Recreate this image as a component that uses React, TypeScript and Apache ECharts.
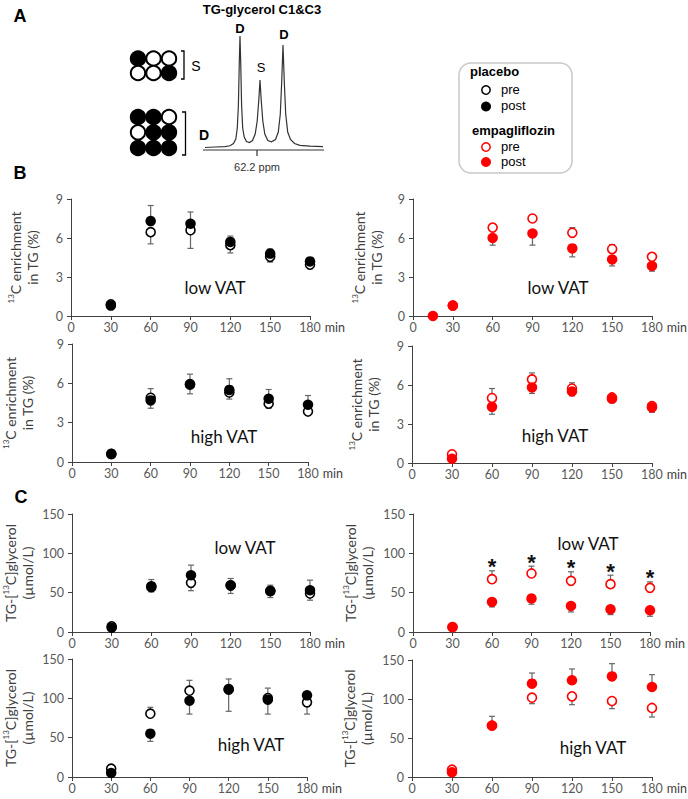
import React, { useEffect, useRef } from 'react';
import * as echarts from 'echarts';

// ---------- data ----------
const times = [30, 60, 90, 120, 150, 180];
const timesEmpLowB = [15, 30, 60, 90, 120, 150, 180];

// Panel B: 13C enrichment in TG (%)
const bPlaLowPre = [0.9, 6.45, 6.6, 5.45, 4.55, 3.95];
const bPlaLowPreErr = [0, -0.9, -1.4, -0.6, -0.4, -0.3];
const bPlaLowPost = [0.8, 7.3, 7.1, 5.7, 4.8, 4.2];
const bPlaLowPostErr = [0, 1.2, 0.9, 0.45, 0.35, 0.15];

const bEmpLowPre = [null, 0.8, 6.8, 7.5, 6.4, 5.15, 4.55];
const bEmpLowPreErr = [0, 0, 0.1, 0.1, 0.4, 0.35, 0.25];
const bEmpLowPost = [0, 0.8, 6.0, 6.35, 5.2, 4.35, 3.85];
const bEmpLowPostErr = [0, 0, -0.55, -0.9, -0.65, -0.5, -0.4];

const bPlaHighPre = [0.6, 4.9, 5.95, 5.3, 4.45, 3.85];
const bPlaHighPreErr = [0, 0.7, -0.75, -0.5, -0.35, -0.3];
const bPlaHighPost = [0.62, 4.7, 5.9, 5.5, 4.83, 4.37];
const bPlaHighPostErr = [0, -0.6, 0.8, 0.85, 0.7, 0.7];

const bEmpHighPre = [0.67, 5.0, 6.43, 5.73, 5.04, 4.37];
const bEmpHighPreErr = [0, 0.73, 0.5, 0.44, 0.3, 0.25];
const bEmpHighPost = [0.33, 4.32, 5.81, 5.5, 4.94, 4.27];
const bEmpHighPostErr = [0, -0.57, -0.46, -0.33, -0.31, -0.37];

// Panel C: TG-[13C]glycerol (µmol/L)
const cPlaLowPre = [7.2, 57, 62.5, 59, 52, 48.9];
const cPlaLowPreErr = [0, -6, -10, -10, -8.2, -8.5];
const cPlaLowPost = [5.5, 58.2, 72.2, 59.5, 52.3, 53.1];
const cPlaLowPostErr = [0, 8.5, 12.8, 8.5, 7.2, 12.8];

const cEmpLowPre = [6, 67.1, 74.4, 65, 60.8, 56.1];
const cEmpLowPreErr = [0, 10.7, 9.3, 11.5, 11.4, 7.6];
const cEmpLowPost = [6.4, 38.2, 42.5, 33.1, 28.9, 27.6];
const cEmpLowPostErr = [0, -6.3, -7.2, -7.6, -6.8, -7.6];
const cEmpLowSignificant = [false, true, true, true, true, true];

const cPlaHighPre = [10.6, 80.5, 109.7, 111, 100.4, 94.9];
const cPlaHighPreErr = [0, 8.1, 13.2, -27.5, 12.6, -14.9];
const cPlaHighPost = [5.1, 55.1, 97, 111.8, 98.3, 103.8];
const cPlaHighPostErr = [0, -9.8, -17, 12.8, -18.3, 0];

const cEmpHighPre = [9.4, 66, 101.7, 103.4, 97.4, 88.5];
const cEmpHighPreErr = [0, 0, -7.7, -10.7, -9.8, -11.6];
const cEmpHighPost = [6, 65.8, 119.7, 124, 129, 115.4];
const cEmpHighPostErr = [0, 12, 13.6, 14.5, 16.3, 15.8];

const legendLabels = ['placebo', 'pre', 'post', 'empagliflozin', 'pre', 'post'];

// ---------- styling ----------
const FONT = 'Lato, "Open Sans", sans-serif';
const ARIAL = '"Liberation Sans", Arial, sans-serif';
const AXIS = '#404040';
const TICK = '#595959';
const ERR = '#666666';
const RED = '#ff0000';

const nameB = '{s|13}C enrichment\nin TG (%)';
const nameC = 'TG-[{s|13}C]glycerol\n(µmol/L)';

type Panel = {
  grid: { left: number; top: number; width: number; height: number };
  c: boolean;
  xs: number[];
  pre: (number | null)[];
  preErr: number[];
  post: (number | null)[];
  postErr: number[];
  red: boolean;
  nameGap: number;
  label: string;
  labelPos: [number, number];
  stars?: boolean[];
};

const panels: Panel[] = [
  { grid: { left: 71, top: 199, width: 239, height: 117 }, c: false, xs: times, pre: bPlaLowPre, preErr: bPlaLowPreErr, post: bPlaLowPost, postErr: bPlaLowPostErr, red: false, nameGap: 30, label: 'low VAT', labelPos: [215, 287] },
  { grid: { left: 413, top: 199, width: 240, height: 117 }, c: false, xs: timesEmpLowB, pre: bEmpLowPre, preErr: bEmpLowPreErr, post: bEmpLowPost, postErr: bEmpLowPostErr, red: true, nameGap: 28, label: 'low VAT', labelPos: [558, 287] },
  { grid: { left: 72, top: 344, width: 236, height: 118 }, c: false, xs: times, pre: bPlaHighPre, preErr: bPlaHighPreErr, post: bPlaHighPost, postErr: bPlaHighPostErr, red: false, nameGap: 36, label: 'high VAT', labelPos: [224, 436] },
  { grid: { left: 412, top: 346, width: 240, height: 117 }, c: false, xs: times, pre: bEmpHighPre, preErr: bEmpHighPreErr, post: bEmpHighPost, postErr: bEmpHighPostErr, red: true, nameGap: 30, label: 'high VAT', labelPos: [555, 435] },
  { grid: { left: 72, top: 514, width: 238, height: 118 }, c: true, xs: times, pre: cPlaLowPre, preErr: cPlaLowPreErr, post: cPlaLowPost, postErr: cPlaLowPostErr, red: false, nameGap: 36, label: 'low VAT', labelPos: [245, 547] },
  { grid: { left: 413, top: 514, width: 237, height: 118 }, c: true, xs: times, pre: cEmpLowPre, preErr: cEmpLowPreErr, post: cEmpLowPost, postErr: cEmpLowPostErr, red: true, nameGap: 37, label: 'low VAT', labelPos: [588, 543], stars: cEmpLowSignificant },
  { grid: { left: 72, top: 659, width: 235, height: 118 }, c: true, xs: times, pre: cPlaHighPre, preErr: cPlaHighPreErr, post: cPlaHighPost, postErr: cPlaHighPostErr, red: false, nameGap: 36, label: 'high VAT', labelPos: [251, 744] },
  { grid: { left: 412, top: 660, width: 240, height: 117 }, c: true, xs: times, pre: cEmpHighPre, preErr: cEmpHighPreErr, post: cEmpHighPost, postErr: cEmpHighPostErr, red: true, nameGap: 37, label: 'high VAT', labelPos: [593, 747] },
];

function pts(xs: number[], ys: (number | null)[]) {
  const out: number[][] = [];
  xs.forEach((x, i) => { if (ys[i] != null) out.push([x, ys[i] as number]); });
  return out;
}
function errPts(xs: number[], ys: (number | null)[], es: number[]) {
  const out: number[][] = [];
  xs.forEach((x, i) => { if (ys[i] != null && es[i]) out.push([x, ys[i] as number, es[i]]); });
  return out;
}

const errRender = (params: any, api: any) => {
  const x = api.value(0), y = api.value(1), e = api.value(2);
  const p0 = api.coord([x, y]);
  const p1 = api.coord([x, y + e]);
  const cap = 3;
  const st = { stroke: ERR, lineWidth: 1.2 };
  return {
    type: 'group',
    children: [
      { type: 'line', shape: { x1: p0[0], y1: p0[1], x2: p1[0], y2: p1[1] }, style: st },
      { type: 'line', shape: { x1: p1[0] - cap, y1: p1[1], x2: p1[0] + cap, y2: p1[1] }, style: st },
    ],
  };
};

const starRender = (params: any, api: any) => {
  const p = api.coord([api.value(0), api.value(1)]);
  return {
    type: 'text',
    x: p[0],
    y: p[1] - 4,
    style: { text: '*', font: `bold 22px ${'"Liberation Sans", Arial, sans-serif'}`, fill: '#111', textAlign: 'center', textVerticalAlign: 'middle' },
  };
};

// schematic spectrum (illustration in panel A)
const spectrumPath =
  'M205 147.5 L215 147 L225 146.6 L230 145.8 L233.5 143.5 L235.8 139 L237.3 128 L238.4 105 L239.3 62 L240 36 L240.7 62 L241.6 105 L242.7 128 L244.2 137 L246.5 141.5 L249.5 142.5 L252.5 140.5 L255.2 134 L257.2 121 L258.8 100 L260 80 L261.2 100 L262.8 121 L264.8 134 L267.8 140.5 L271.5 141.8 L275.5 139.5 L278.3 132 L280.3 114 L281.7 82 L283 45 L284.3 82 L285.7 114 L287.7 132 L290.5 139.5 L294.5 143.5 L300 145.3 L310 146.2 L323 146.6';

echarts.graphic.registerShape('spectrum', echarts.graphic.extendPath(spectrumPath as any, {}) as any);

const topPattern = [[1, 0, 0], [0, 0, 1]];
const bottomPattern = [[1, 1, 0], [0, 1, 1], [1, 1, 1]];

function buildGraphic() {
  const g: any[] = [];
  const txt = (x: number, y: number, text: string, font: string, fill = '#000', align = 'center') =>
    g.push({ type: 'text', x, y, silent: true, style: { text, font, fill, textAlign: align, textVerticalAlign: 'middle' } });

  txt(20, 16, 'A', `bold 18px ${ARIAL}`);
  txt(20, 173, 'B', `bold 18px ${ARIAL}`);
  txt(21, 497, 'C', `bold 18px ${ARIAL}`);
  txt(262, 9, 'TG-glycerol C1&C3', `bold 13px ${ARIAL}`);

  const colX = [138, 153.5, 169];
  topPattern.forEach((row, r) => row.forEach((f, c) => {
    g.push({ type: 'circle', shape: { cx: colX[c], cy: 58.5 + r * 14.5, r: 7.2 }, style: { fill: f ? '#000' : '#fff', stroke: '#000', lineWidth: 2 } });
  }));
  const botY = [117, 132.3, 148];
  bottomPattern.forEach((row, r) => row.forEach((f, c) => {
    g.push({ type: 'circle', shape: { cx: colX[c], cy: botY[r], r: 7.2 }, style: { fill: f ? '#000' : '#fff', stroke: '#000', lineWidth: 2 } });
  }));
  // brackets
  g.push({ type: 'polyline', shape: { points: [[181, 51], [184, 51], [184, 79], [181, 79]] }, style: { stroke: '#000', lineWidth: 1.3, fill: null } });
  g.push({ type: 'polyline', shape: { points: [[182, 112], [185.5, 112], [185.5, 155], [182, 155]] }, style: { stroke: '#000', lineWidth: 1.3, fill: null } });
  txt(196, 66, 'S', `14px ${ARIAL}`);
  txt(204, 135, 'D', `bold 14px ${ARIAL}`);

  // spectrum
  g.push({ type: 'spectrum', x: 0, y: 0, style: { stroke: '#333', lineWidth: 1.2, fill: null } });
  g.push({ type: 'line', shape: { x1: 203, y1: 150, x2: 324, y2: 150 }, style: { stroke: '#333', lineWidth: 1.2 } });
  g.push({ type: 'line', shape: { x1: 257, y1: 150, x2: 257, y2: 156 }, style: { stroke: '#333', lineWidth: 1.2 } });
  txt(257, 167, '62.2 ppm', `11px ${ARIAL}`, '#333');
  txt(240, 28, 'D', `bold 13px ${ARIAL}`);
  txt(261, 67, 'S', `13px ${ARIAL}`);
  txt(284, 34, 'D', `bold 13px ${ARIAL}`);

  // legend box
  g.push({ type: 'rect', shape: { x: 459, y: 63, width: 113, height: 110, r: 12 }, style: { fill: '#fff', stroke: '#c8c8c8', lineWidth: 1.5 } });
  txt(470, 71, legendLabels[0], `bold 13px ${ARIAL}`, '#000', 'left');
  g.push({ type: 'circle', shape: { cx: 486, cy: 90, r: 4.2 }, style: { fill: '#fff', stroke: '#000', lineWidth: 1.5 } });
  txt(501, 89, legendLabels[1], `13px ${ARIAL}`, '#000', 'left');
  g.push({ type: 'circle', shape: { cx: 486, cy: 106.5, r: 5 }, style: { fill: '#000' } });
  txt(501, 105.5, legendLabels[2], `13px ${ARIAL}`, '#000', 'left');
  txt(472, 130, legendLabels[3], `bold 13px ${ARIAL}`, '#000', 'left');
  g.push({ type: 'circle', shape: { cx: 486, cy: 147, r: 4.2 }, style: { fill: '#fff', stroke: RED, lineWidth: 1.5 } });
  txt(501, 146, legendLabels[4], `13px ${ARIAL}`, '#000', 'left');
  g.push({ type: 'circle', shape: { cx: 486, cy: 162, r: 5 }, style: { fill: RED } });
  txt(501, 161.5, legendLabels[5], `13px ${ARIAL}`, '#000', 'left');

  panels.forEach((p) => txt(p.labelPos[0], p.labelPos[1], p.label, `17px ${FONT}`, '#111'));
  return g;
}

function buildOption() {
  const grid: any[] = [], xAxis: any[] = [], yAxis: any[] = [], series: any[] = [];
  panels.forEach((p, i) => {
    grid.push({ ...p.grid, containLabel: false });
    xAxis.push({
      type: 'value', gridIndex: i, min: 0, max: 180, interval: 30,
      axisLine: { lineStyle: { color: AXIS, width: 1 } },
      axisTick: { show: true, length: 4, lineStyle: { color: AXIS } },
      axisLabel: { color: TICK, fontSize: 12.5, fontFamily: FONT, margin: 5 },
      splitLine: { show: false },
      name: 'min', nameLocation: 'end', nameGap: 9,
      nameTextStyle: { color: AXIS, fontSize: 12.5, fontFamily: FONT, align: 'left', verticalAlign: 'top', padding: [5, 0, 0, 0] },
    });
    yAxis.push({
      type: 'value', gridIndex: i, min: 0, max: p.c ? 150 : 9, interval: p.c ? 50 : 3,
      axisLine: { show: true, lineStyle: { color: AXIS, width: 1 } },
      axisTick: { show: true, length: 4, lineStyle: { color: AXIS } },
      axisLabel: { color: TICK, fontSize: 12.5, fontFamily: FONT, margin: 8 },
      splitLine: { show: false },
      name: p.c ? nameC : nameB, nameLocation: 'middle', nameGap: p.nameGap,
      nameTextStyle: {
        color: AXIS, fontSize: 14, fontFamily: FONT, lineHeight: 17,
        rich: { s: { fontSize: 8, fontFamily: FONT, color: AXIS, verticalAlign: 'top', lineHeight: 17 } },
      },
    });
    const col = p.red ? RED : '#000';
    series.push({ type: 'custom', xAxisIndex: i, yAxisIndex: i, renderItem: errRender, data: errPts(p.xs, p.pre, p.preErr), encode: { x: 0, y: 1 }, z: 1, silent: true });
    series.push({ type: 'custom', xAxisIndex: i, yAxisIndex: i, renderItem: errRender, data: errPts(p.xs, p.post, p.postErr), encode: { x: 0, y: 1 }, z: 1, silent: true });
    series.push({ type: 'scatter', xAxisIndex: i, yAxisIndex: i, symbol: 'circle', symbolSize: 9, data: pts(p.xs, p.pre), itemStyle: { color: '#fff', borderColor: col, borderWidth: 1.6, opacity: 1 }, z: 2 });
    series.push({ type: 'scatter', xAxisIndex: i, yAxisIndex: i, symbol: 'circle', symbolSize: 10.5, data: pts(p.xs, p.post), itemStyle: { color: col, opacity: 1 }, z: 3 });
    if (p.stars) {
      const starData: number[][] = [];
      p.xs.forEach((x, k) => { if (p.stars![k]) starData.push([x, (p.pre[k] as number) + Math.max(p.preErr[k], 0)]); });
      series.push({ type: 'custom', xAxisIndex: i, yAxisIndex: i, renderItem: starRender, data: starData, encode: { x: 0, y: 1 }, z: 4, silent: true });
    }
  });
  return { animation: false, backgroundColor: '#fff', grid, xAxis, yAxis, series, graphic: buildGraphic() };
}

export default function App() {
  const ref = useRef<HTMLDivElement>(null);
  useEffect(() => {
    if (!ref.current) return;
    const chart = echarts.init(ref.current, null, { renderer: 'svg' });
    chart.setOption(buildOption() as any);
    return () => chart.dispose();
  }, []);
  return <div ref={ref} style={{ position: 'absolute', left: 0, top: 0, width: 688, height: 799 }} />;
}
